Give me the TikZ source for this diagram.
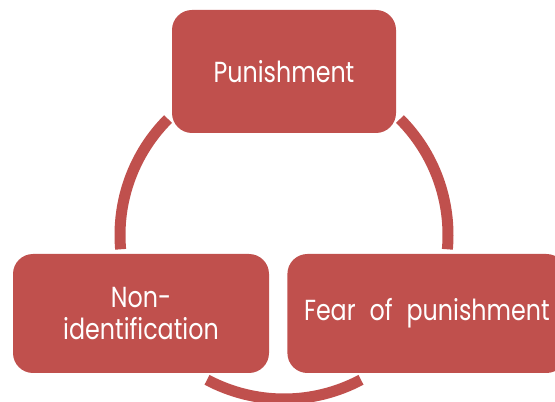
\documentclass[tikz,border=0pt]{standalone}
\usepackage{fontspec}
\setmainfont{Poppins}[FakeStretch=0.82, WordSpace=2.2]
\usetikzlibrary{positioning}
\definecolor{boxred}{HTML}{C0504D}

\begin{document}
\begin{tikzpicture}[x=1pt, y=1pt,
	box/.style={fill=boxred, rounded corners=20pt, text=white, align=center, inner sep=0pt, font=\fontsize{29}{32}\selectfont},
	loop/.style={draw=boxred, line width=11pt}]
	\clip (0,0) rectangle (555,402);
	
	\node[box, minimum width=224pt, minimum height=123pt] (p) at (284,330.5) {Punishment};
	\node[box, minimum width=256pt, minimum height=119pt] (n) at (141,88.5) {Non-\\identification};
	\node[box, minimum width=279pt, minimum height=119pt, right=18pt of n] (f) {Fear of punishment};
	
	\coordinate (o) at (284,167);
	\def\rad{164}
	
	\draw[loop] (o) ++(135:\rad) arc[start angle=135, end angle=185, radius=\rad];
	\draw[loop] (o) ++(45:\rad) arc[start angle=45, end angle=-5, radius=\rad];
	\draw[loop] (o) ++(242:\rad) arc[start angle=242, end angle=298, radius=\rad];
\end{tikzpicture}
\end{document}
